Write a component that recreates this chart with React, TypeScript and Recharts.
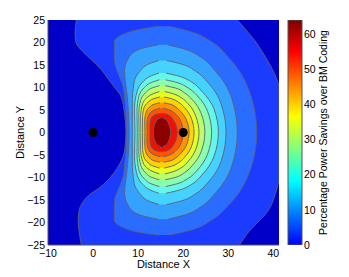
import {
  Area,
  Bar,
  BarChart,
  CartesianGrid,
  ComposedChart,
  ReferenceDot,
  XAxis,
  YAxis,
} from "recharts";

// axis ticks
const X_TICKS = [-10, 0, 10, 20, 30, 40];
const Y_TICKS = [-25, -20, -15, -10, -5, 0, 5, 10, 15, 20, 25];
const CB_TICKS = [0, 10, 20, 30, 40, 50, 60];
const CB_MAX = 64;

// contour levels (% savings) and the fill of each band, lowest first
const LEVELS = [0, 5, 10, 15, 20, 25, 30, 35, 40, 45, 50, 55, 60];
const BAND_COLORS = [
  "#0000c8", // < 0
  "#1b3bff",
  "#2a6cff",
  "#35a2ff",
  "#45d2ff",
  "#64f7ea",
  "#8cffae",
  "#b9ff6a",
  "#e6ff22",
  "#ffd400",
  "#ff9400",
  "#ff5400",
  "#f21000",
  "#8c0000", // >= 60
];

// transmitter positions (black dots)
const SOURCES = [
  { x: 0, y: 0 },
  { x: 20, y: 0 },
];

// each contour: [y, x left, x right]
const level0 = [
  [-25, -2.6, 32.5], [-22, -3.1, 34.6], [-20, -3.3, 36.5], [-18, -3.2, 38.4],
  [-16, -2.6, 39.6], [-14, -1.0, 40.3], [-12, 1.8, 40.9], [-10, 3.8, 41.25],
  [-8, 5.3, 41.25], [-4, 7.0, 41.25], [0, 7.3, 41.25], [4, 7.0, 41.25],
  [8, 6.2, 41.25], [10, 4.8, 41.25], [12, 3.3, 40.7], [14, 1.8, 39.8],
  [16, -0.2, 38.7], [18, -2.3, 37.5], [20, -3.8, 36.2], [22, -4.0, 34.6],
  [25, -3.7, 32.0],
];
const level5 = [
  [-22.8, 14.4, 16.9], [-21.7, 8.2, 21.7], [-19.4, 4.7, 26.4], [-16.0, 4.7, 30.2],
  [-9.1, 6.8, 34.6], [0, 7.4, 36.3], [9.4, 6.8, 34.6], [16.5, 4.7, 30.2],
  [20.1, 4.7, 26.4], [22.4, 8.2, 21.7], [23.6, 14.4, 16.9],
];
const level10 = [
  [-19.3, 14.5, 16.5], [-18.3, 10.3, 20.4], [-16.4, 7.9, 24.1], [-13.5, 7.0, 27.1],
  [-7.7, 7.6, 30.7], [0, 8.0, 32.0], [7.8, 7.6, 30.7], [13.7, 7.0, 27.1],
  [16.6, 7.9, 24.1], [18.5, 10.3, 20.4], [19.5, 14.5, 16.5],
];
const level15 = [
  [-16, 14.55, 16.3], [-15.2, 12.3, 19.6], [-13.6, 10.4, 22.8], [-11.2, 9.1, 25.4],
  [-6.4, 8.7, 28.4], [0, 8.7, 29.5], [6.4, 8.7, 28.4], [11.2, 9.1, 25.4],
  [13.6, 10.4, 22.8], [15.2, 12.3, 19.6], [16, 14.55, 16.3],
];
const level20 = [
  [-13.5, 14.6, 16.2], [-12.8, 12.7, 19.1], [-11.5, 11.0, 21.9], [-9.5, 9.8, 24.1],
  [-5.4, 9.2, 26.8], [0, 9.3, 27.8], [5.3, 9.2, 26.8], [9.2, 9.8, 24.1],
  [11.2, 11.0, 21.9], [12.5, 12.7, 19.1], [13.2, 14.6, 16.2],
];
const level25 = [
  [-12, 14.7, 16.1], [-11.4, 12.9, 18.6], [-10.2, 11.3, 21.1], [-8.4, 10.2, 23.1],
  [-4.8, 9.75, 25.4], [0, 9.8, 26.3], [4.7, 9.75, 25.4], [8.2, 10.2, 23.1],
  [9.9, 11.3, 21.1], [11.1, 12.9, 18.6], [11.7, 14.7, 16.1],
];
const level30 = [
  [-10.5, 14.7, 16.0], [-10.0, 13.1, 18.2], [-8.9, 11.6, 20.3], [-7.35, 10.6, 22.0],
  [-4.2, 10.15, 24.0], [0, 10.2, 24.8], [4.2, 10.15, 24.0], [7.3, 10.6, 22.0],
  [8.8, 11.6, 20.3], [9.9, 13.1, 18.2], [10.4, 14.7, 16.0],
];
const level35 = [
  [-9.2, 14.7, 15.9], [-8.7, 13.3, 17.8], [-7.8, 11.9, 19.6], [-6.4, 11.0, 21.1],
  [-3.7, 10.55, 22.8], [0, 10.6, 23.5], [3.6, 10.55, 22.8], [6.4, 11.0, 21.1],
  [7.7, 11.9, 19.6], [8.6, 13.3, 17.8], [9.1, 14.7, 15.9],
];
const level40 = [
  [-7.9, 14.8, 15.8], [-7.5, 13.4, 17.4], [-6.7, 12.2, 19.0], [-5.5, 11.3, 20.3],
  [-3.2, 10.95, 21.8], [0, 11.0, 22.4], [3.2, 10.95, 21.8], [5.5, 11.3, 20.3],
  [6.7, 12.2, 19.0], [7.5, 13.4, 17.4], [7.9, 14.8, 15.8],
];
const level45 = [
  [-6.6, 14.8, 15.7], [-6.3, 13.6, 17.1], [-5.6, 12.5, 18.4], [-4.6, 11.8, 19.5],
  [-2.6, 11.45, 20.8], [0, 11.5, 21.3], [2.6, 11.45, 20.8], [4.6, 11.8, 19.5],
  [5.6, 12.5, 18.4], [6.3, 13.6, 17.1], [6.6, 14.8, 15.7],
];
const level50 = [
  [-5.4, 14.9, 15.6], [-5.1, 13.9, 16.7], [-4.6, 12.9, 17.7], [-3.8, 12.3, 18.6],
  [-2.2, 11.95, 19.6], [0, 12.0, 20.0], [2.2, 11.95, 19.6], [3.8, 12.3, 18.6],
  [4.6, 12.9, 17.7], [5.1, 13.9, 16.7], [5.4, 14.9, 15.6],
];
const level55 = [
  [-4.3, 15.0, 15.5], [-4.1, 14.1, 16.3], [-3.7, 13.3, 17.1], [-3.0, 12.8, 17.7],
  [-1.7, 12.6, 18.4], [0, 12.6, 18.7], [1.7, 12.6, 18.4], [3.0, 12.8, 17.7],
  [3.7, 13.3, 17.1], [4.1, 14.1, 16.3], [4.3, 15.0, 15.5],
];
const level60 = [
  [-3.2, 15.1, 15.4], [-3.0, 14.6, 15.8], [-2.7, 14.2, 16.3], [-2.2, 13.9, 16.6],
  [-1.3, 13.5, 17.0], [0, 13.4, 17.2], [1.3, 13.5, 17.0], [2.3, 13.9, 16.6],
  [2.8, 14.2, 16.3], [3.1, 14.6, 15.8], [3.3, 15.1, 15.4],
];

const CONTOURS = [
  level0, level5, level10, level15, level20, level25, level30,
  level35, level40, level45, level50, level55, level60,
];

// jet colormap as shown on the colorbar (value -> colour)
const CB_STOPS = [
  { v: 64, c: "#800000" },
  { v: 54.9, c: "#ff0000" },
  { v: 36.6, c: "#ffff00" },
  { v: 27.4, c: "#80ff80" },
  { v: 18.3, c: "#00ffff" },
  { v: 0, c: "#0000ff" },
];

const FONT = "'Liberation Sans', Arial, Helvetica, sans-serif";
const LINE = "#5f5f72";

const fmt = (v: number) => (v < 0 ? `\u2212${-v}` : `${v}`);

function RotatedTitle({ viewBox, text, shift, size = 11 }: any) {
  const cx = viewBox.x + shift;
  const cy = viewBox.y + viewBox.height / 2;
  return (
    <text
      x={cx}
      y={cy}
      transform={`rotate(-90 ${cx} ${cy})`}
      textAnchor="middle"
      dominantBaseline="central"
      fontSize={size}
      fill="#000"
    >
      {text}
    </text>
  );
}

function BottomTitle({ viewBox, text }: any) {
  return (
    <text
      x={viewBox.x + viewBox.width / 2}
      y={viewBox.y + 23}
      textAnchor="middle"
      fontSize={11}
      fill="#000"
    >
      {text}
    </text>
  );
}

export default function App() {
  const tick = { fill: "#000", fontSize: 10.5 };
  return (
    <div
      style={{
        position: "absolute",
        left: 0,
        top: 0,
        width: 349,
        height: 277,
        background: "#fff",
        fontFamily: FONT,
      }}
    >
      <ComposedChart
        width={349}
        height={277}
        layout="vertical"
        margin={{ top: 20, right: 70, bottom: 0, left: 0 }}
      >
        <CartesianGrid horizontal={false} vertical={false} fill={BAND_COLORS[0]} stroke="none" />
        {CONTOURS.map((rows, i) => (
          <Area
            key={LEVELS[i]}
            data={rows.map(([y, lo, hi]) => ({ y, band: [lo, hi] }))}
            dataKey="band"
            type="monotone"
            fill={BAND_COLORS[i + 1]}
            fillOpacity={1}
            stroke={LINE}
            strokeWidth={0.9}
            dot={false}
            activeDot={false}
            isAnimationActive={false}
          />
        ))}
        {SOURCES.map((s) => (
          <ReferenceDot key={s.x} x={s.x} y={s.y} r={4.5} fill="#000" stroke="none" />
        ))}
        <XAxis
          type="number"
          domain={[-10, 41.25]}
          ticks={X_TICKS}
          allowDataOverflow
          interval={0}
          height={32}
          tickLine={false}
          tickSize={0}
          tickMargin={5}
          tick={tick}
          tickFormatter={fmt}
          axisLine={{ stroke: "#555" }}
          label={{ content: (p: any) => <BottomTitle {...p} text="Distance X" /> }}
        />
        <YAxis
          type="number"
          dataKey="y"
          domain={[-25, 25]}
          reversed
          ticks={Y_TICKS}
          allowDataOverflow
          interval={0}
          width={48}
          tickLine={false}
          tickSize={0}
          tickMargin={3}
          tick={tick}
          tickFormatter={fmt}
          axisLine={{ stroke: "#555" }}
          label={{ content: (p: any) => <RotatedTitle {...p} text="Distance Y" shift={20} /> }}
        />
        <XAxis
          xAxisId="top"
          orientation="top"
          type="number"
          domain={[-10, 41.25]}
          height={0}
          tick={false}
          tickLine={false}
          axisLine={{ stroke: "#555" }}
        />
        <YAxis
          yAxisId="right"
          orientation="right"
          type="number"
          domain={[-25, 25]}
          reversed
          width={0}
          tick={false}
          tickLine={false}
          axisLine={{ stroke: "#555" }}
        />
      </ComposedChart>

      <div style={{ position: "absolute", left: 280, top: 0 }}>
        <BarChart
          width={62}
          height={277}
          data={[{ name: "cb", value: CB_MAX }]}
          margin={{ top: 20, right: 0, bottom: 32, left: 8 }}
          barCategoryGap={0}
        >
          <defs>
            <linearGradient id="jet" x1="0" y1="0" x2="0" y2="1">
              {CB_STOPS.map((s) => (
                <stop key={s.v} offset={(CB_MAX - s.v) / CB_MAX} stopColor={s.c} />
              ))}
            </linearGradient>
          </defs>
          <XAxis dataKey="name" hide />
          <YAxis
            orientation="right"
            domain={[0, CB_MAX]}
            ticks={CB_TICKS}
            allowDataOverflow
            interval={0}
            width={40}
            tickLine={false}
            tickSize={0}
            tickMargin={2}
            tick={tick}
            axisLine={false}
            label={{
              content: (p: any) => (
                <RotatedTitle
                  {...p}
                  text="Percentage Power Savings over BM Coding"
                  shift={21}
                  size={10.5}
                />
              ),
            }}
          />
          <Bar dataKey="value" fill="url(#jet)" stroke="#555" isAnimationActive={false} />
        </BarChart>
      </div>
    </div>
  );
}
